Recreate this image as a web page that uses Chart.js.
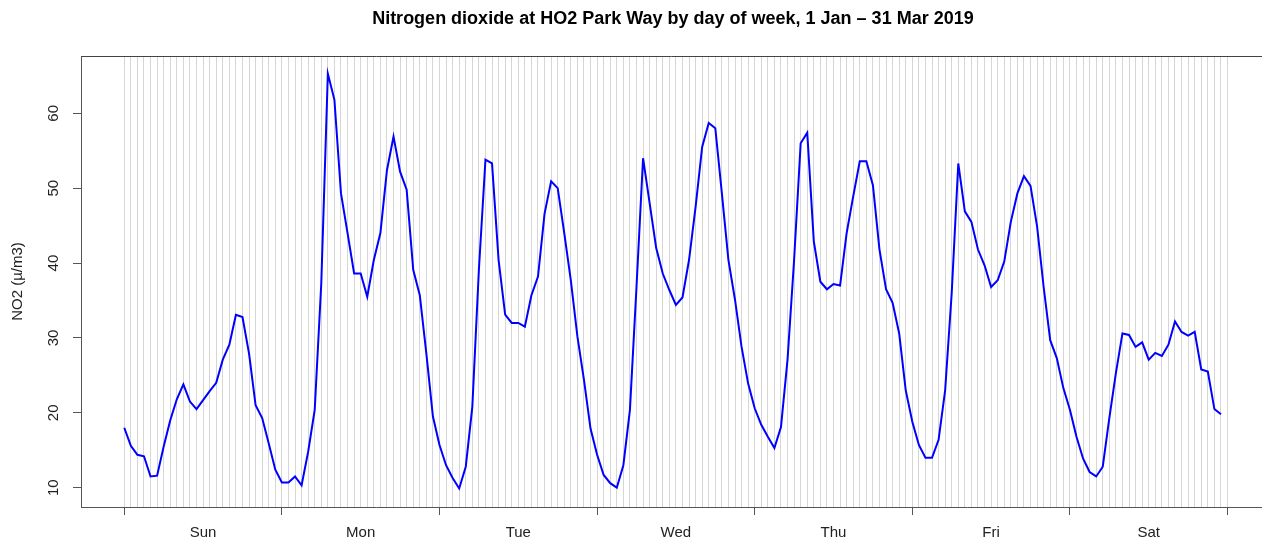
<!DOCTYPE html>
<html>
<head>
<meta charset="utf-8">
<title>NO2 by day of week</title>
<script src="https://cdn.jsdelivr.net/npm/chart.js@4.4.1/dist/chart.umd.min.js"></script>
<style>
  html, body { margin: 0; padding: 0; background: #fff; overflow: hidden; }
  canvas { display: block; }
</style>
</head>
<body>
<canvas id="no2Chart" width="1262" height="544"></canvas>
<script>
// hourly means, Sun 00:00 ... Sat 23:00
const sun = [18.0, 15.6, 14.4, 14.2, 11.5, 11.6, 15.5, 19.0, 21.8, 23.8, 21.5, 20.5, 21.7, 22.9, 24.0, 27.1, 29.1, 33.1, 32.8, 27.9, 21.0, 19.3, 15.9, 12.4];
const mon = [10.7, 10.7, 11.5, 10.3, 14.8, 20.4, 37.3, 65.3, 61.8, 49.3, 44.0, 38.6, 38.6, 35.5, 40.4, 44.0, 52.4, 56.9, 52.2, 49.8, 39.1, 35.7, 27.9, 19.5];
const tue = [15.7, 13.0, 11.3, 9.9, 12.8, 20.8, 39.1, 53.8, 53.3, 40.4, 33.1, 32.0, 32.0, 31.5, 35.7, 38.2, 46.6, 50.9, 50.0, 44.0, 37.7, 30.2, 24.4, 17.9];
const wed = [14.4, 11.7, 10.6, 10.0, 13.0, 20.4, 36.8, 54.0, 48.0, 42.0, 38.6, 36.4, 34.4, 35.4, 40.4, 47.5, 55.5, 58.7, 58.0, 49.3, 40.4, 35.1, 28.8, 23.9];
const thu = [20.6, 18.4, 16.8, 15.3, 18.1, 27.1, 40.4, 56.0, 57.4, 42.9, 37.5, 36.5, 37.2, 37.0, 44.0, 48.9, 53.6, 53.6, 50.4, 41.8, 36.5, 34.7, 30.6, 23.0];
const fri = [18.8, 15.7, 14.0, 14.0, 16.4, 23.0, 36.0, 53.3, 46.9, 45.5, 41.8, 39.7, 36.8, 37.7, 40.2, 45.5, 49.3, 51.6, 50.3, 44.9, 36.8, 29.7, 27.3, 23.3];
const sat = [20.4, 16.8, 13.9, 12.1, 11.5, 12.8, 19.3, 25.3, 30.6, 30.4, 28.8, 29.4, 27.1, 28.0, 27.6, 29.1, 32.2, 30.8, 30.3, 30.8, 25.8, 25.5, 20.5, 19.8];

const dayNames = ['Sun', 'Mon', 'Tue', 'Wed', 'Thu', 'Fri', 'Sat'];
const yTicks = [10, 20, 30, 40, 50, 60];
const chartTitle = 'Nitrogen dioxide at HO2 Park Way by day of week, 1 Jan \u2013 31 Mar 2019';

const no2 = [].concat(sun, mon, tue, wed, thu, fri, sat);
const points = no2.map((v, i) => ({ x: i, y: v }));

const FONT = "'Liberation Sans', Arial, sans-serif";

// y tick labels drawn vertical like R's default
const rotatedYLabels = {
  id: 'rotatedYLabels',
  afterDraw(chart) {
    const ctx = chart.ctx;
    const y = chart.scales.y;
    ctx.save();
    ctx.fillStyle = '#222';
    ctx.font = '15px ' + FONT;
    ctx.textAlign = 'center';
    ctx.textBaseline = 'middle';
    y.ticks.forEach(t => {
      ctx.save();
      ctx.translate(y.right - 27, y.getPixelForValue(t.value));
      ctx.rotate(-Math.PI / 2);
      ctx.fillText(String(t.value), 0, 0);
      ctx.restore();
    });
    ctx.restore();
  }
};

// top edge of plot box + title centred on the plot region (the plot runs a bit past the right edge)
const frameAndTitle = {
  id: 'frameAndTitle',
  afterDraw(chart) {
    const { ctx, chartArea } = chart;
    ctx.save();
    ctx.strokeStyle = '#444';
    ctx.lineWidth = 1;
    ctx.beginPath();
    ctx.moveTo(chartArea.left, chartArea.top + 0.5);
    ctx.lineTo(chartArea.right, chartArea.top + 0.5);
    ctx.stroke();

    const x = chart.scales.x;
    const mid = (x.getPixelForValue(x.min) + x.getPixelForValue(173.68)) / 2;
    ctx.fillStyle = '#000';
    ctx.font = 'bold 18px ' + FONT;
    ctx.textAlign = 'center';
    ctx.textBaseline = 'middle';
    ctx.fillText(chartTitle, mid, 19);
    ctx.restore();
  }
};

new Chart(document.getElementById('no2Chart'), {
  type: 'line',
  data: {
    datasets: [{
      label: 'NO2',
      data: points,
      borderColor: '#0000ff',
      borderWidth: 2,
      pointRadius: 0,
      tension: 0,
      fill: false
    }]
  },
  options: {
    responsive: false,
    animation: false,
    devicePixelRatio: 1,
    layout: { padding: { left: 0, right: 0, top: 56, bottom: 0 } },
    plugins: {
      legend: { display: false },
      tooltip: { enabled: false },
      title: { display: false }
    },
    scales: {
      x: {
        type: 'linear',
        min: -6.59,
        max: 173.25,
        afterBuildTicks: s => {
          const t = [];
          for (let h = 0; h <= 168; h++) t.push({ value: h });
          s.ticks = t;
        },
        afterFit: s => { s.height = 37; },
        ticks: {
          autoSkip: false,
          maxRotation: 0,
          padding: 9,
          color: '#222',
          font: { family: FONT, size: 15 },
          callback: v => (v % 24 === 12 ? dayNames[(v - 12) / 24] : '')
        },
        grid: {
          color: '#d6d6d6',
          lineWidth: 1,
          tickLength: 8,
          tickColor: c => (c.tick && c.tick.value % 24 === 0 ? '#555' : 'rgba(0,0,0,0)')
        },
        border: { display: true, color: '#555', width: 1 }
      },
      y: {
        type: 'linear',
        min: 7.42,
        max: 67.65,
        afterBuildTicks: s => { s.ticks = yTicks.map(v => ({ value: v })); },
        afterFit: s => { s.width = 81; },
        ticks: { display: false },
        grid: {
          drawOnChartArea: false,
          drawTicks: true,
          tickLength: 8,
          tickColor: '#555'
        },
        border: { display: true, color: '#555', width: 1 },
        title: {
          display: true,
          text: 'NO2 (\u00b5/m3)',
          color: '#222',
          font: { family: FONT, size: 15 },
          padding: { top: 9, bottom: 0 }
        }
      }
    }
  },
  plugins: [rotatedYLabels, frameAndTitle]
});
</script>
</body>
</html>
